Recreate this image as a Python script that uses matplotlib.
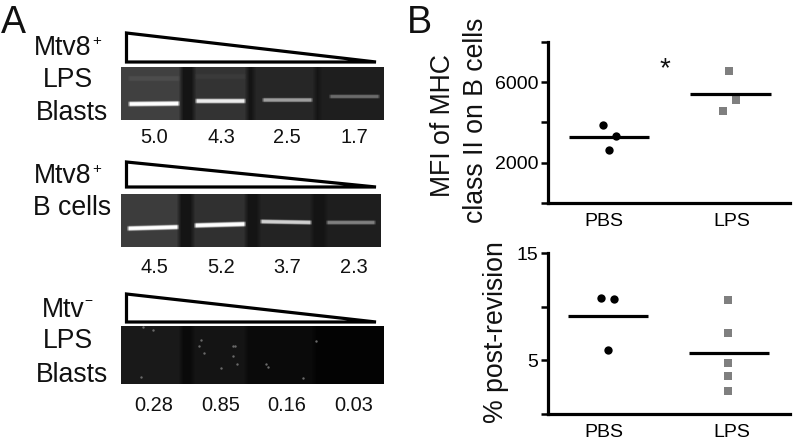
import numpy as np
import matplotlib
matplotlib.use("Agg")
import matplotlib.pyplot as plt
from matplotlib.patches import Polygon

plt.rcParams['font.family'] = ['Liberation Sans', 'DejaVu Sans']

# ---- data ----
densito_1 = ["5.0", "4.3", "2.5", "1.7"]
densito_2 = ["4.5", "5.2", "3.7", "2.3"]
densito_3 = ["0.28", "0.85", "0.16", "0.03"]

groups = ["PBS", "LPS"]
mfi_pbs = [3880, 3330, 2630]
mfi_lps = [6560, 5130, 4570]
mfi_pbs_x = [0.99, 1.09, 1.04]
mfi_lps_x = [1.98, 2.03, 1.93]
mfi_means = [3280, 5430]

rev_pbs = [10.8, 10.7, 5.96]
rev_lps = [10.6, 7.55, 4.75, 3.5, 2.1]
rev_pbs_x = [0.98, 1.08, 1.03]
rev_lps_x = [1.97, 1.97, 1.97, 1.97, 1.97]
rev_means = [9.16, 5.7]

# gel lanes: (x0, x1, background grey)
gel1_lanes = [(0, 60, .25), (73, 126, .20), (133, 194, .15), (199, 263, .12)]
gel2_lanes = [(0, 58, .24), (72, 125, .19), (138, 191, .14), (205, 260, .12)]
gel3_lanes = [(0, 60, .10), (72, 125, .08), (130, 192, .04), (193, 263, .015)]
# bands: (x0, x1, y start, y end, peak grey, half thickness)
gel1_bands = [(6, 59, 36.5, 36, 1.0, 2.4), (73, 125, 33.5, 33.5, .92, 2.3),
              (140, 192, 32.5, 32.5, .62, 2.0), (207, 259, 29, 29, .42, 1.9)]
gel2_bands = [(5, 58, 34, 32.5, 1.0, 2.3), (72, 125, 31, 29.5, 1.0, 2.4),
              (138, 191, 27, 28, .82, 2.1), (204, 255, 28, 28, .5, 2.0)]
gel1_faint = [(6, 59, 11, 11, .30, 2.6), (73, 125, 9, 9, .23, 2.6)]
gel3_spec_x = [32, 80, 83, 114, 20, 78, 112, 116, 100, 145, 147, 182, 22, 195, 112]
gel3_spec_y = [4, 14, 27, 20, 51, 20, 20, 38, 42, 38, 41, 52, 1, 15, 30]


fig = plt.figure(figsize=(7.93, 4.42), dpi=100, facecolor='white')
W, H = 793.0, 442.0

overlay = fig.add_axes([0, 0, 1, 1], zorder=5)
overlay.set_xlim(0, W)
overlay.set_ylim(H, 0)
overlay.axis('off')
overlay.patch.set_alpha(0)


def px_axes(l, t, r, b, **kw):
    return fig.add_axes([l / W, 1 - b / H, (r - l) / W, (b - t) / H], **kw)


def smooth(img, n):
    k = np.ones(n) / n
    pad = np.pad(img, ((0, 0), (n, n)), mode='edge')
    out = np.apply_along_axis(lambda r: np.convolve(r, k, mode='same'), 1, pad)
    return out[:, n:-n]


def gel(l, t, r, b, lanes, bands, gap=.08):
    w, h = int(r - l), int(b - t)
    img = np.full((h, w), gap, float)
    for x0, x1, g in lanes:
        img[:, x0:x1] = g
    img = smooth(img, 5)
    for x0, x1, y0, y1, g, s in bands:
        ys = np.arange(h)[:, None]
        xs = np.arange(w)[None, :]
        cy = y0 + (y1 - y0) * (xs - x0) / max(x1 - x0, 1)
        prof = np.exp(-((ys - cy) / s) ** 4)
        edge = np.clip((xs - x0) / 3.0, 0, 1) * np.clip((x1 - xs) / 3.0, 0, 1)
        img = img + (g - img) * prof * edge
    ax = px_axes(l, t, r, b)
    ax.imshow(img, cmap='gray', vmin=0, vmax=1, aspect='auto', interpolation='bilinear',
              extent=[0, w, h, 0])
    ax.axis('off')
    return ax


gel(121, 67, 384, 120, gel1_lanes, gel1_bands + gel1_faint)
gel(121, 194, 381, 247, gel2_lanes, gel2_bands)
ax3 = gel(121, 326, 384, 384, gel3_lanes, [], gap=.04)
ax3.scatter(gel3_spec_x, gel3_spec_y, s=3, color='#6a6a6a', linewidths=0)
ax3.set_xlim(0, 263)
ax3.set_ylim(58, 0)

for yt, yb in [(33, 62), (162, 187), (294, 322)]:
    overlay.add_patch(Polygon([(126.5, yt), (126.5, yb), (376, yb)], closed=True, fill=False,
                              ec='black', lw=2.3, joinstyle='miter'))

LAB = 19.2
def lab(x, y, s, size=LAB, **kw):
    overlay.text(x, y, s, fontsize=size, ha=kw.pop('ha', 'left'), va='baseline', color='#111111', **kw)

lab(1, 33, "A", 27)
lab(407, 33, "B", 27)
lab(34, 55, "Mtv8"); lab(92, 45, "+", 11)
lab(43, 87, "LPS")
lab(36, 120, "Blasts")
lab(34, 183, "Mtv8"); lab(92, 173, "+", 11)
lab(33, 215, "B cells")
lab(42, 317, "Mtv"); lab(84.5, 305, "\u2212", 10)
lab(43, 348, "LPS")
lab(36, 382, "Blasts")

centers = [154, 221, 287, 354]
for labels, y in [(densito_1, 143), (densito_2, 273), (densito_3, 411)]:
    for c, s in zip(centers, labels):
        lab(c, y, s, 14.4, ha='center')

overlay.text(443, 126, "MFI of MHC", rotation=90, fontsize=LAB, ha='center', va='center', color='#111111')
overlay.text(476, 120, "class II on B cells", rotation=90, fontsize=LAB, ha='center', va='center', color='#111111')
overlay.text(496, 332, "% post-revision", rotation=90, fontsize=LAB, ha='center', va='center', color='#111111')
overlay.text(665, 69, "*", fontsize=20, ha='center', va='center', color='#111111')


def scatter_panel(t, b, ymax, major, minor, px, py, lx, ly, means, l0, l1, lblpad):
    ax = px_axes(548, t, 790, b)
    ax.patch.set_alpha(0)
    ax.set_xlim(1 - 56 / 128, 2 + 58 / 128)
    ax.set_ylim(0, ymax)
    for s in ('top', 'right'):
        ax.spines[s].set_visible(False)
    for s in ('left', 'bottom'):
        ax.spines[s].set_linewidth(2.3)
    ax.set_xticks([1, 2], groups)
    ax.tick_params(axis='x', length=0, labelsize=14, pad=lblpad)
    ax.set_yticks(major)
    ax.set_yticks(minor, minor=True)
    ax.tick_params(axis='y', which='both', length=5, width=1.8, labelsize=14, pad=2)
    ax.scatter(px, py, s=36, color='black', marker='o', linewidths=0, zorder=3)
    ax.scatter(lx, ly, s=34, color='#7f7f7f', marker='s', linewidths=0, zorder=3)
    for (a, e), m in zip([l0, l1], means):
        ax.plot([a, e], [m, m], color='black', lw=2.3, solid_capstyle='butt', zorder=4)
    return ax


scatter_panel(42, 203, 8000, [2000, 6000], [0, 4000, 8000],
              mfi_pbs_x, mfi_pbs, mfi_lps_x, mfi_lps, mfi_means,
              (0.727, 1.352), (1.672, 2.305), 7)
scatter_panel(253, 414, 15, [5, 15], [0, 10],
              rev_pbs_x, rev_pbs, rev_lps_x, rev_lps, rev_means,
              (0.715, 1.344), (1.664, 2.289), 7)

fig.savefig("out.png", dpi=100)
